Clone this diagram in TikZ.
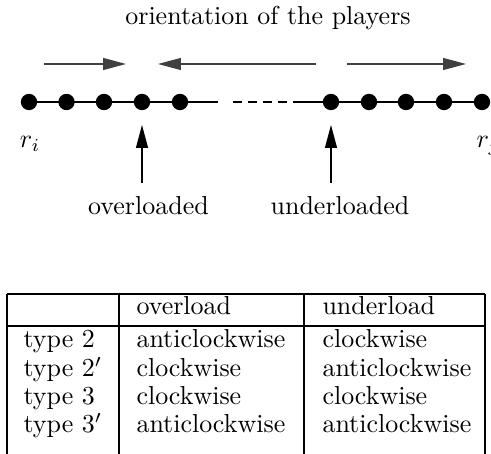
\documentclass[tikz,border=0pt]{standalone}
\usepackage{amsmath,amssymb}
\usetikzlibrary{arrows.meta}

\begin{document}
\begin{tikzpicture}[line cap=butt,line join=round,>={Triangle[length=8.8pt,width=4.6pt]},x=0.385pt,y=-0.385pt,
    player/.style={circle,fill=black,inner sep=0pt,minimum size=6.3pt},
    orient/.style={->,draw=black!75,fill=black!75,line width=0.5pt},
    cell/.style={anchor=base west,inner sep=0pt},
    rule/.style={line width=0.5pt}]
      \useasboundingbox (0,0) rectangle (491,454);

      \node[anchor=base,inner sep=0pt] (title) at (268,25) {orientation of the players};

      % orientation arrows
      \coordinate (o1s) at (44,64);  \coordinate (o1e) at (126,64);
      \coordinate (o2s) at (316,64); \coordinate (o2e) at (158,64);
      \coordinate (o3s) at (347,64); \coordinate (o3e) at (466,64);
      \draw[orient] (o1s) -- (o1e);
      \draw[orient] (o2s) -- (o2e);
      \draw[orient] (o3s) -- (o3e);

      % the players
      \coordinate (gapl) at (218,102); \coordinate (dashl) at (233,102);
      \coordinate (dashr) at (287,102); \coordinate (gapr) at (293,102);
      \draw (29,102) -- (gapl);
      \draw[dash pattern=on 3.47pt off 2.31pt] (dashl) -- (dashr);
      \draw (gapr) -- (482,102);
      \foreach \i/\x in {1/29,2/66.5,3/104,4/142,5/180,6/331,7/369,8/406,9/444,10/482}{
        \node[player] (p\i) at (\x,102) {};
      }

      \node[anchor=base,inner sep=0pt] (ri) at (30,148) {$r_i$};
      \node[anchor=base,inner sep=0pt] (rj) at (488,148) {$r_j$};

      % overloaded / underloaded
      \coordinate (ovfoot) at (142,183); \coordinate (ovtip) at (142,125);
      \coordinate (unfoot) at (331,183); \coordinate (untip) at (331,125);
      \draw[->] (ovfoot) -- (ovtip);
      \draw[->] (unfoot) -- (untip);
      \node[anchor=base,inner sep=0pt] (over) at (148.5,215) {overloaded};
      \node[anchor=base,inner sep=0pt] (under) at (340,215) {underloaded};

      % table of types
      \draw[rule] (7,294) -- (485,294);
      \draw[rule] (7,326) -- (485,326);
      \foreach \x in {7,119,304,485}{
        \draw[rule] (\x,294) -- (\x,460);
      }
      \node[cell] (hov) at (136,315) {overload};
      \node[cell] (hun) at (322,315) {underload};
      \foreach \i/\y/\t/\a/\b in {1/348/{type 2}/anticlockwise/clockwise,
                                 2/376.5/{type $2'$}/clockwise/anticlockwise,
                                 3/405/{type 3}/clockwise/clockwise,
                                 4/433/{type $3'$}/anticlockwise/anticlockwise}{
        \node[cell] (t\i) at (23,\y) {\t};
        \node[cell] (a\i) at (136,\y) {\a};
        \node[cell] (b\i) at (322,\y) {\b};
      }
    \end{tikzpicture}
\end{document}
